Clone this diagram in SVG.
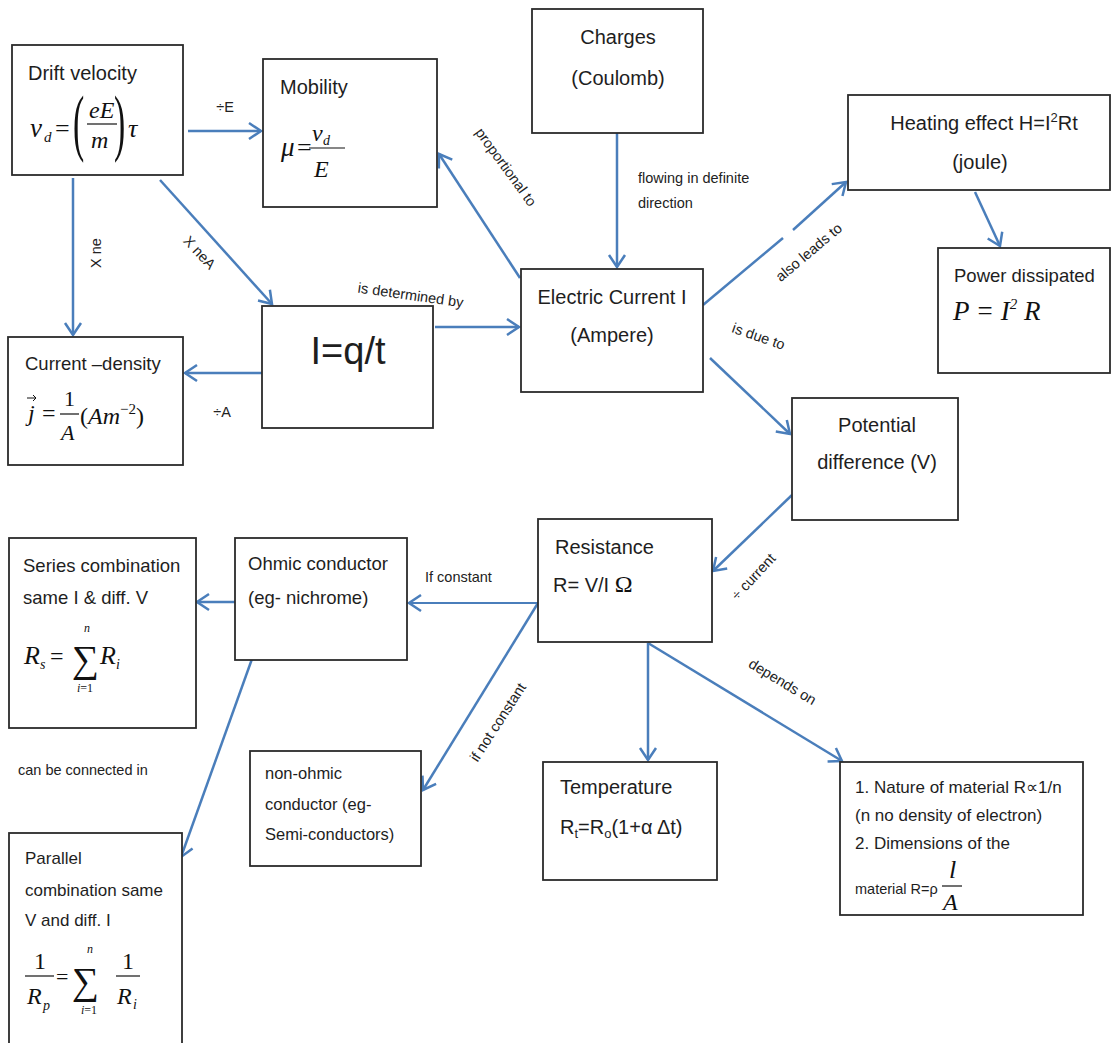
<svg xmlns="http://www.w3.org/2000/svg" width="1113" height="1043" viewBox="0 0 1113 1043">
<defs>
<style>
.box{fill:#fff;stroke:#2b2b2b;stroke-width:1.8}
.t{font-family:"Liberation Sans",Arial,sans-serif;font-size:18.5px;fill:#1e1e1e}
.s{font-family:"Liberation Sans",Arial,sans-serif;font-size:14.5px;fill:#222}
.m{font-family:"Liberation Serif","Times New Roman",serif;font-style:italic;fill:#111}
.mn{font-family:"Liberation Serif","Times New Roman",serif;fill:#111}
.c{fill:none;stroke:#4a7ebb;stroke-width:2.5}
.fl{stroke:#111;stroke-width:1.2}
</style>
<marker id="ah" markerUnits="userSpaceOnUse" markerWidth="20" markerHeight="20" refX="14" refY="10" orient="auto" overflow="visible">
<path d="M2,2 L14,10 L2,18" fill="none" stroke="#4a7ebb" stroke-width="2.5"/>
</marker>
</defs>
<rect width="1113" height="1043" fill="#fff"/>

<g id="connectors">
<line class="c" x1="188" y1="131" x2="261" y2="131" marker-end="url(#ah)"/>
<line class="c" x1="73" y1="178" x2="73" y2="335" marker-end="url(#ah)"/>
<line class="c" x1="160" y1="180" x2="272" y2="304" marker-end="url(#ah)"/>
<line class="c" x1="435" y1="327" x2="519" y2="327" marker-end="url(#ah)"/>
<line class="c" x1="262" y1="373" x2="185" y2="373" marker-end="url(#ah)"/>
<line class="c" x1="520" y1="278" x2="439" y2="154" marker-end="url(#ah)"/>
<line class="c" x1="617" y1="133" x2="617" y2="267" marker-end="url(#ah)"/>
<line class="c" x1="703" y1="305" x2="783" y2="238"/>
<line class="c" x1="793" y1="230" x2="846" y2="182" marker-end="url(#ah)"/>
<line class="c" x1="975" y1="192" x2="1000" y2="246" marker-end="url(#ah)"/>
<line class="c" x1="710" y1="358" x2="790" y2="434" marker-end="url(#ah)"/>
<line class="c" x1="792" y1="495" x2="713" y2="571" marker-end="url(#ah)"/>
<line class="c" x1="538" y1="603" x2="409" y2="603" marker-end="url(#ah)" style="stroke-width:1.8"/>
<line class="c" x1="538" y1="603" x2="423" y2="790" marker-end="url(#ah)"/>
<line class="c" x1="648" y1="643" x2="648" y2="760" marker-end="url(#ah)"/>
<line class="c" x1="648" y1="643" x2="842" y2="761" marker-end="url(#ah)"/>
<line class="c" x1="235" y1="602" x2="197" y2="602" marker-end="url(#ah)"/>
<line class="c" x1="257" y1="645" x2="181" y2="857" marker-end="url(#ah)"/>

<text class="s" x="225" y="112" text-anchor="middle">÷E</text>
<text class="s" transform="translate(101,253) rotate(-90)" text-anchor="middle">X ne</text>
<text class="s" transform="translate(196,256) rotate(47)" text-anchor="middle">X neA</text>
<text class="s" transform="translate(410,300) rotate(8)" text-anchor="middle">is determined by</text>
<text class="s" x="222" y="417" text-anchor="middle">÷A</text>
<text class="s" transform="translate(502,170) rotate(54)" text-anchor="middle">proportional to</text>
<text class="s" x="638" y="183">flowing in definite</text>
<text class="s" x="638" y="208">direction</text>
<text class="s" transform="translate(812,256) rotate(-40)" text-anchor="middle">also leads to</text>
<text class="s" transform="translate(757,341) rotate(19)" text-anchor="middle">is due to</text>
<text class="s" transform="translate(757,580) rotate(-47)" text-anchor="middle">÷ current</text>
<text class="s" x="425" y="582">If constant</text>
<text class="s" transform="translate(502,725) rotate(-57)" text-anchor="middle">if not constant</text>
<text class="s" transform="translate(780,686) rotate(31)" text-anchor="middle">depends on</text>
<text class="s" x="18" y="775">can be connected in</text>
</g>

<g id="node-drift">
<rect class="box" x="12" y="45" width="171" height="130"/>
<text class="t" x="28" y="80" style="font-size:20px">Drift velocity</text>
<text class="m" x="30" y="137" font-size="27">v</text>
<text class="m" x="44" y="142" font-size="15">d</text>
<text class="mn" x="55" y="137" font-size="26">=</text>
<text class="mn" transform="translate(73,147) scale(0.45,1)" font-size="75">(</text>
<text class="m" x="89" y="118" font-size="24">eE</text>
<line class="fl" x1="87" y1="124" x2="117" y2="124"/>
<text class="m" x="91" y="148" font-size="24">m</text>
<text class="mn" transform="translate(114,147) scale(0.45,1)" font-size="75">)</text>
<text class="m" x="128" y="137" font-size="26">τ</text>
</g>

<g id="node-mobility">
<rect class="box" x="263" y="59" width="174" height="148"/>
<text class="t" x="280" y="94" style="font-size:20px">Mobility</text>
<text class="m" x="281" y="156" font-size="27">μ</text>
<text class="mn" x="297" y="156" font-size="26">=</text>
<text class="m" x="312" y="141" font-size="24">v</text>
<text class="m" x="323" y="145" font-size="14">d</text>
<line class="fl" x1="309" y1="148" x2="345" y2="148"/>
<text class="m" x="314" y="177" font-size="24">E</text>
</g>

<g id="node-charges">
<rect class="box" x="532" y="9" width="171" height="124"/>
<text class="t" x="618" y="44" text-anchor="middle" style="font-size:20px">Charges</text>
<text class="t" x="618" y="85" text-anchor="middle" style="font-size:20px">(Coulomb)</text>
</g>

<g id="node-heating">
<rect class="box" x="848" y="95" width="262" height="95"/>
<text class="t" x="984" y="130" text-anchor="middle" style="font-size:20px">Heating effect H=I<tspan font-size="13" dy="-8">2</tspan><tspan dy="8">Rt</tspan></text>
<text class="t" x="980" y="169" text-anchor="middle" style="font-size:20px">(joule)</text>
</g>

<g id="node-power">
<rect class="box" x="938" y="248" width="172" height="125"/>
<text class="t" x="954" y="282">Power dissipated</text>
<text class="m" x="953" y="320" font-size="27">P <tspan class="mn">=</tspan> I<tspan font-size="15" dy="-11" class="mn">2</tspan><tspan dy="11"> R</tspan></text>
</g>

<g id="node-current">
<rect class="box" x="521" y="269" width="182" height="123"/>
<text class="t" x="612" y="304" text-anchor="middle" style="font-size:20px">Electric Current I</text>
<text class="t" x="612" y="342" text-anchor="middle" style="font-size:20px">(Ampere)</text>
</g>

<g id="node-iqt">
<rect class="box" x="262" y="306" width="171" height="122"/>
<text class="t" x="348" y="364" text-anchor="middle" style="font-size:38px">I=q/t</text>
</g>

<g id="node-density">
<rect class="box" x="8" y="337" width="175" height="128"/>
<text class="t" x="25" y="370">Current –density</text>
<text class="m" x="28" y="421" font-size="24">j</text>
<line x1="27" y1="398" x2="36" y2="398" stroke="#111" stroke-width="1"/>
<path d="M33,395 L36,398 L33,401" fill="none" stroke="#111" stroke-width="1"/>
<text class="mn" x="42" y="421" font-size="24">=</text>
<text class="mn" x="64" y="406" font-size="22">1</text>
<line class="fl" x1="60" y1="414" x2="79" y2="414"/>
<text class="m" x="61" y="440" font-size="22">A</text>
<text class="mn" x="80" y="424" font-size="24">(<tspan class="m">Am</tspan><tspan font-size="15" dy="-10">−2</tspan><tspan dy="10">)</tspan></text>
</g>

<g id="node-pd">
<rect class="box" x="792" y="398" width="166" height="122"/>
<text class="t" x="877" y="432" text-anchor="middle" style="font-size:20px">Potential</text>
<text class="t" x="877" y="469" text-anchor="middle" style="font-size:20px">difference (V)</text>
</g>

<g id="node-resistance">
<rect class="box" x="538" y="519" width="174" height="123"/>
<text class="t" x="555" y="554" style="font-size:20px">Resistance</text>
<text class="t" x="553" y="592" style="font-size:20px">R= V/I <tspan class="mn" font-size="24">Ω</tspan></text>
</g>

<g id="node-ohmic">
<rect class="box" x="235" y="538" width="172" height="122"/>
<text class="t" x="248" y="570">Ohmic conductor</text>
<text class="t" x="248" y="604">(eg- nichrome)</text>
</g>

<g id="node-series">
<rect class="box" x="9" y="538" width="187" height="190"/>
<text class="t" x="23" y="572">Series combination</text>
<text class="t" x="23" y="604">same I &amp; diff. V</text>
<text class="m" x="24" y="664" font-size="26">R</text>
<text class="m" x="40" y="669" font-size="14">s</text>
<text class="mn" x="50" y="664" font-size="24">=</text>
<text class="mn" x="72" y="672" font-size="38">∑</text>
<text class="m" x="84" y="632" font-size="12">n</text>
<text class="mn" x="77" y="692" font-size="12"><tspan class="m">i</tspan>=1</text>
<text class="m" x="100" y="664" font-size="26">R</text>
<text class="m" x="116" y="669" font-size="14">i</text>
</g>

<g id="node-nonohmic">
<rect class="box" x="250" y="751" width="171" height="115"/>
<text class="t" x="265" y="779" style="font-size:16.5px">non-ohmic</text>
<text class="t" x="265" y="810" style="font-size:16.5px">conductor (eg-</text>
<text class="t" x="265" y="840" style="font-size:16.5px">Semi-conductors)</text>
</g>

<g id="node-temperature">
<rect class="box" x="543" y="762" width="174" height="118"/>
<text class="t" x="560" y="794" style="font-size:20px">Temperature</text>
<text class="t" x="560" y="834" style="font-size:20px">R<tspan font-size="13" dy="4">t</tspan><tspan dy="-4">=R</tspan><tspan font-size="13" dy="4">o</tspan><tspan dy="-4">(1+α Δt)</tspan></text>
</g>

<g id="node-nature">
<rect class="box" x="840" y="762" width="243" height="153"/>
<text class="t" x="855" y="793" style="font-size:17px">1. Nature of material R∝1/n</text>
<text class="t" x="855" y="821" style="font-size:17px">(n no density of electron)</text>
<text class="t" x="855" y="849" style="font-size:17px">2. Dimensions of the</text>
<text class="t" x="855" y="894" style="font-size:14.5px">material R=ρ</text>
<text class="m" x="949" y="878" font-size="26">l</text>
<line class="fl" x1="942" y1="886" x2="962" y2="886"/>
<text class="m" x="943" y="910" font-size="24">A</text>
</g>

<g id="node-parallel">
<rect class="box" x="9" y="833" width="173" height="220"/>
<text class="t" x="25" y="864" style="font-size:17px">Parallel</text>
<text class="t" x="25" y="896" style="font-size:17px">combination same</text>
<text class="t" x="25" y="926" style="font-size:17px">V and diff. I</text>
<text class="mn" x="34" y="969" font-size="24">1</text>
<line class="fl" x1="25" y1="976" x2="54" y2="976"/>
<text class="m" x="27" y="1004" font-size="24">R</text>
<text class="m" x="43" y="1010" font-size="14">p</text>
<text class="mn" x="56" y="984" font-size="22">=</text>
<text class="mn" x="72" y="994" font-size="38">∑</text>
<text class="m" x="87" y="953" font-size="12">n</text>
<text class="mn" x="81" y="1014" font-size="12"><tspan class="m">i</tspan>=1</text>
<text class="mn" x="122" y="969" font-size="24">1</text>
<line class="fl" x1="116" y1="976" x2="140" y2="976"/>
<text class="m" x="117" y="1004" font-size="24">R</text>
<text class="m" x="133" y="1009" font-size="14">i</text>
</g>
</svg>
